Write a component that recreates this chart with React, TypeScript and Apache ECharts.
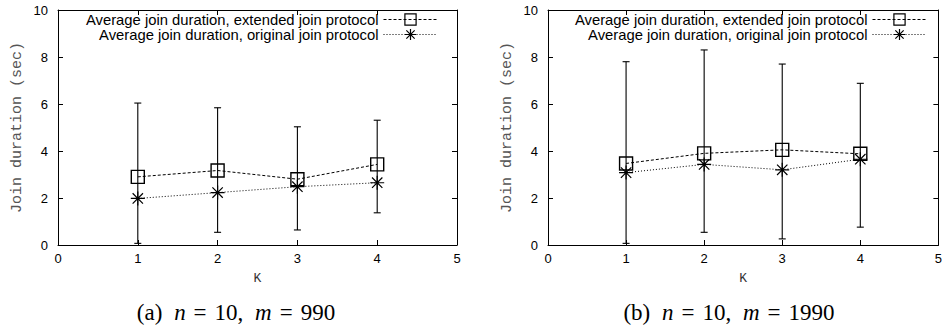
import React, { useEffect, useRef } from "react";
import * as echarts from "echarts";

const kValues = [1, 2, 3, 4];
const xTicks = [0, 1, 2, 3, 4, 5];
const yTicks = [0, 2, 4, 6, 8, 10];

const leftExtended = [2.9, 3.17, 2.8, 3.43];
const leftOriginal = [1.98, 2.23, 2.48, 2.65];
const leftErrLow = [0.07, 0.54, 0.64, 1.37];
const leftErrHigh = [6.04, 5.84, 5.03, 5.31];

const rightExtended = [3.47, 3.9, 4.05, 3.88];
const rightOriginal = [3.08, 3.43, 3.2, 3.65];
const rightErrLow = [0.07, 0.54, 0.26, 0.76];
const rightErrHigh = [7.8, 8.3, 7.7, 6.88];

const nameExtended = "Average join duration, extended join protocol";
const nameOriginal = "Average join duration, original join protocol";
const yTitle = "Join duration (sec)";
const xTitle = "K";
const captionLeft = ["(a)", "n", "10,", "m", "990"];
const captionRight = ["(b)", "n", "10,", "m", "1990"];

const SQUARE = "path://M0,0L10,0L10,10L0,10Z";
const STAR = "path://M5,0L5,10M0,5L10,5M1.3,1.3L8.7,8.7M8.7,1.3L1.3,8.7";

const SANS = "Liberation Sans";
const MONO = "Liberation Mono";

export default function App() {
  const ref = useRef<HTMLDivElement>(null);

  useEffect(() => {
    if (!ref.current) return;
    const chart = echarts.init(ref.current, null, { renderer: "svg" });

    const grids = [
      { left: 58, top: 10, width: 399, height: 235 },
      { left: 548, top: 10, width: 397, height: 235 },
    ];

    const xAxes: any[] = [];
    const yAxes: any[] = [];
    const series: any[] = [];

    const datasets = [
      { ext: leftExtended, orig: leftOriginal, lo: leftErrLow, hi: leftErrHigh },
      { ext: rightExtended, orig: rightOriginal, lo: rightErrLow, hi: rightErrHigh },
    ];

    grids.forEach((_, gi) => {
      const common = {
        gridIndex: gi,
        type: "value",
        axisLine: { show: true, onZero: false, lineStyle: { color: "#000", width: 1 } },
        axisTick: { show: true, inside: true, length: 5, lineStyle: { color: "#000" } },
        splitLine: { show: false },
      };
      xAxes.push({
        ...common,
        position: "bottom",
        min: 0,
        max: 5,
        interval: 1,
        name: xTitle,
        nameLocation: "middle",
        nameGap: 27,
        nameTextStyle: { fontFamily: MONO, fontSize: 13, color: "#333" },
        axisLabel: {
          fontFamily: SANS,
          fontSize: 13,
          color: "#000",
          margin: 7,
          formatter: (v: number) => (xTicks.includes(v) ? String(v) : ""),
        },
      });
      xAxes.push({
        ...common,
        position: "top",
        min: 0,
        max: 5,
        interval: 1,
        axisLabel: { show: false },
      });
      yAxes.push({
        ...common,
        position: "left",
        min: 0,
        max: 10,
        interval: 2,
        name: yTitle,
        nameLocation: "middle",
        nameGap: 33,
        nameTextStyle: { fontFamily: MONO, fontSize: 15, color: "#555" },
        axisLabel: {
          fontFamily: SANS,
          fontSize: 13,
          color: "#000",
          margin: 10,
          formatter: (v: number) => (yTicks.includes(v) ? String(v) : ""),
        },
      });
      yAxes.push({
        ...common,
        position: "right",
        min: 0,
        max: 10,
        interval: 2,
        axisLabel: { show: false },
      });

      const d = datasets[gi];
      series.push({
        type: "custom",
        xAxisIndex: gi * 2,
        yAxisIndex: gi * 2,
        silent: true,
        z: 1,
        data: kValues.map((k, i) => [k, d.lo[i], d.hi[i]]),
        encode: { x: 0, y: [1, 2] },
        renderItem: (params: any, api: any) => {
          const x = api.value(0);
          const pLo = api.coord([x, api.value(1)]);
          const pHi = api.coord([x, api.value(2)]);
          const w = 3.5;
          const st = { stroke: "#000", lineWidth: 1.1 };
          return {
            type: "group",
            children: [
              { type: "line", shape: { x1: pLo[0], y1: pLo[1], x2: pHi[0], y2: pHi[1] }, style: st },
              { type: "line", shape: { x1: pLo[0] - w, y1: pLo[1], x2: pLo[0] + w, y2: pLo[1] }, style: st },
              { type: "line", shape: { x1: pHi[0] - w, y1: pHi[1], x2: pHi[0] + w, y2: pHi[1] }, style: st },
            ],
          };
        },
      });
      series.push({
        type: "line",
        name: nameExtended,
        xAxisIndex: gi * 2,
        yAxisIndex: gi * 2,
        z: 3,
        data: kValues.map((k, i) => [k, d.ext[i]]),
        symbol: SQUARE,
        symbolSize: 13,
        symbolKeepAspect: true,
        showAllSymbol: true,
        lineStyle: { color: "#000", width: 1, type: [3, 2] },
        itemStyle: { color: "rgba(0,0,0,0)", borderColor: "#000", borderWidth: 1.4 },
      });
      series.push({
        type: "line",
        name: nameOriginal,
        xAxisIndex: gi * 2,
        yAxisIndex: gi * 2,
        z: 3,
        data: kValues.map((k, i) => [k, d.orig[i]]),
        symbol: STAR,
        symbolSize: 14,
        symbolKeepAspect: true,
        showAllSymbol: true,
        lineStyle: { color: "#000", width: 1, type: [1, 2] },
        itemStyle: { color: "rgba(0,0,0,0)", borderColor: "#000", borderWidth: 1.2 },
      });
    });

    const legendCommon = {
      orient: "vertical",
      align: "right",
      top: 12,
      padding: 0,
      itemWidth: 54,
      itemHeight: 14,
      itemGap: 0,
      selectedMode: false,
      textStyle: { fontFamily: SANS, fontSize: 14.8, color: "#000", lineHeight: 14 },
      lineStyle: { width: 1 },
      itemStyle: { borderWidth: 1.2 },
      data: [nameExtended, nameOriginal],
    };

    const makeCaption = (parts: string[], cx: number) => ({
      type: "text",
      x: cx,
      y: 312,
      style: {
        text: `{a|${parts[0]}}{s| }{i|${parts[1]}}{e|=}{a|${parts[2]}}{s| }{i|${parts[3]}}{e|=}{a|${parts[4]}}`,
        align: "center",
        verticalAlign: "middle",
        fontFamily: "Liberation Serif",
        fontSize: 23,
        fill: "#000",
        rich: {
          a: { fontFamily: "Liberation Serif", fontSize: 23, fill: "#000" },
          i: { fontFamily: "Liberation Serif", fontSize: 23, fontStyle: "italic", fill: "#000" },
          e: { fontFamily: "Liberation Serif", fontSize: 23, fill: "#000", padding: [0, 8] },
          s: { fontFamily: "Liberation Serif", fontSize: 23, fill: "#000", padding: [0, 3] },
        },
      },
    });

    chart.setOption({
      animation: false,
      backgroundColor: "#fff",
      grid: grids,
      xAxis: xAxes,
      yAxis: yAxes,
      legend: [
        { ...legendCommon, right: 507 },
        { ...legendCommon, right: 18 },
      ],
      series,
      graphic: [makeCaption(captionLeft, 236), makeCaption(captionRight, 729)],
    });

    return () => chart.dispose();
  }, []);

  return (
    <div
      ref={ref}
      style={{ position: "fixed", left: 0, top: 0, width: 945, height: 328, background: "#fff" }}
    />
  );
}
